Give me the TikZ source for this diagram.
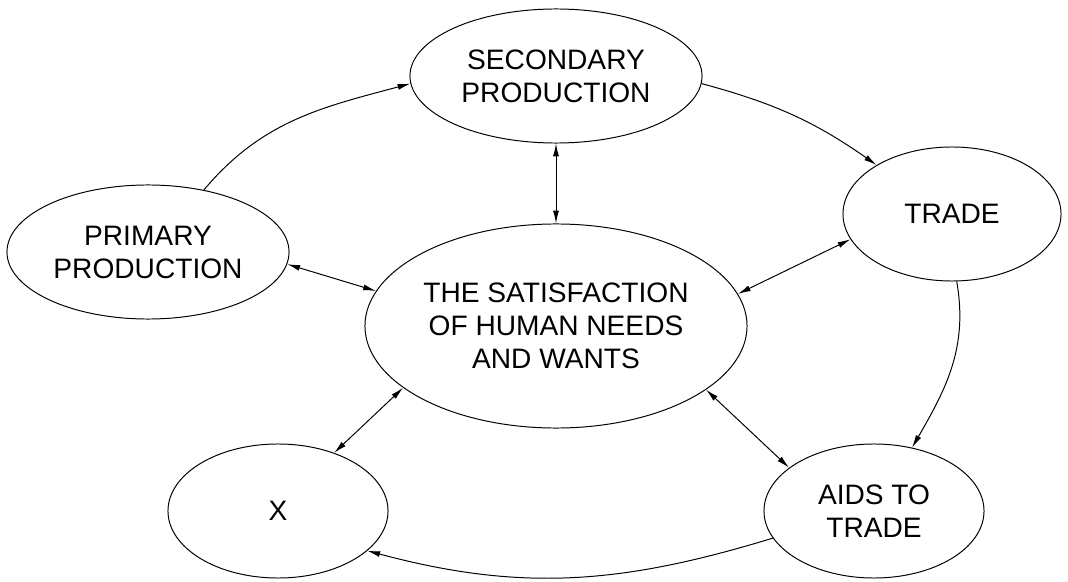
\documentclass[tikz,border=0pt]{standalone}
\usepackage{fontspec}
\setmainfont{Liberation Sans}
\usetikzlibrary{shapes.geometric}
\usetikzlibrary{arrows.meta}
\tikzset{bubble/.style={ellipse, draw, inner sep=0pt, align=center, font=\fontsize{20}{23.5}\selectfont, minimum height=3.35cm, minimum width=#1}}

\begin{document}
\begin{tikzpicture}[x=0.025cm, y=0.025cm, line width=0.7pt, >={Latex[length=3.2mm,width=1.5mm]}]
\useasboundingbox (0,0) rectangle (1068,581);
\node (sec) at (556,505) [bubble=7.3cm] {SECONDARY\\PRODUCTION};
\node (trade) at (952,367) [bubble=5.45cm] {TRADE};
\node (prim) at (148,329) [bubble=7.05cm] {PRIMARY\\PRODUCTION};
\node (hum) at (556,255) [bubble=9.55cm, minimum height=5.1cm, inner xsep=-0.5cm] {THE SATISFACTION\\OF HUMAN NEEDS\\AND WANTS};
\node (x) at (278,70) [bubble=5.5cm] {X};
\node (aids) at (874,70) [bubble=5.5cm] {AIDS TO\\TRADE};

\draw[->] (prim.48) to [out=50,in=195] (sec.183);
\draw[->] (sec.-3) to [out=-15,in=145] (trade.147);
\draw[->] (trade.-86) to [out=-80,in=60] (aids.59);
\draw[->] (aids.195) to [out=197,in=-15] (x.-24);
\draw[<->] (sec) -- (hum);
\draw[<->] (prim.-5) -- (hum.169);
\draw[<->] (trade.-166) -- (hum.10);
\draw[<->] (hum.-158) -- (x.46);
\draw[<->] (hum.-23) -- (aids.153);
\end{tikzpicture}
\end{document}
